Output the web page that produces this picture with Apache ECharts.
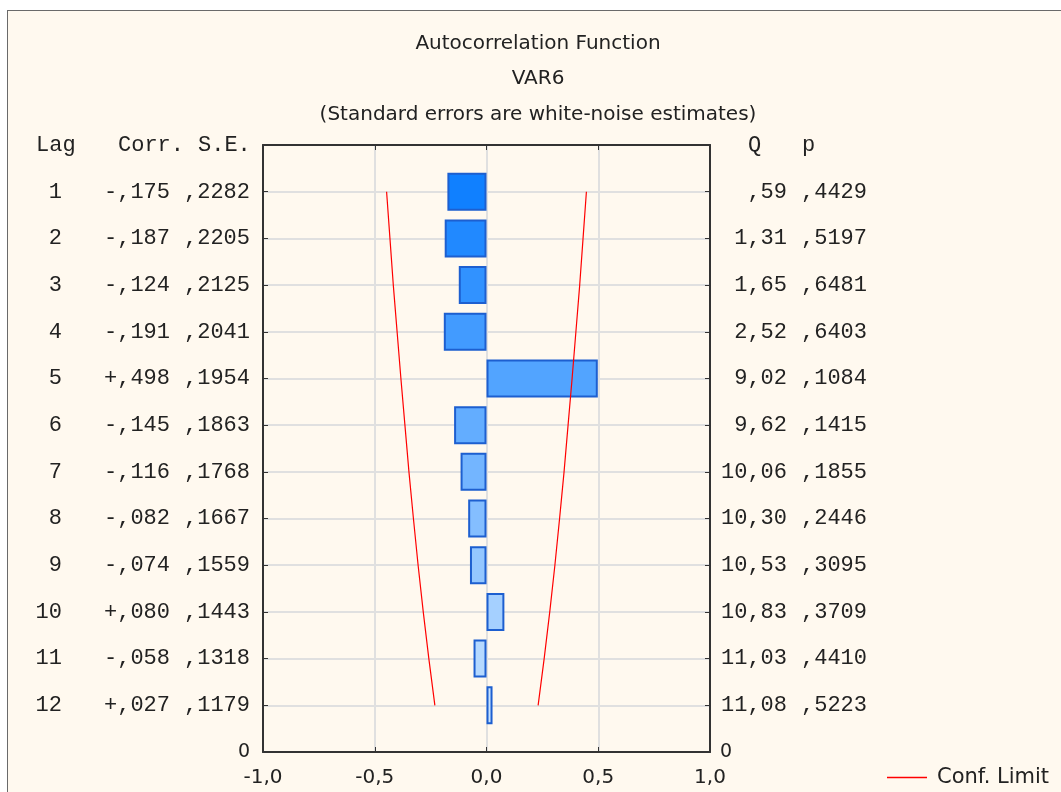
<!DOCTYPE html>
<html>
<head>
<meta charset="utf-8">
<script src="https://cdn.jsdelivr.net/npm/echarts@6/dist/echarts.min.js"></script>
<style>
html, body { margin: 0; padding: 0; background: #fff; }
#main {
  position: absolute; left: 7px; top: 10px;
  width: 1060px; height: 790px;
  border-left: 1px solid #6a6a6a; border-top: 1px solid #6a6a6a;
  background: #fff9ef;
}
</style>
</head>
<body>
<div id="main"></div>
<script>
var lags = [1, 2, 3, 4, 5, 6, 7, 8, 9, 10, 11, 12]
var corr = [-0.175, -0.187, -0.124, -0.191, 0.498, -0.145, -0.116, -0.082, -0.074, 0.080, -0.058, 0.027]
var stdErr = [0.2282, 0.2205, 0.2125, 0.2041, 0.1954, 0.1863, 0.1768, 0.1667, 0.1559, 0.1443, 0.1318, 0.1179]
var qStat = [0.59, 1.31, 1.65, 2.52, 9.02, 9.62, 10.06, 10.30, 10.53, 10.83, 11.03, 11.08]
var pValue = [0.4429, 0.5197, 0.6481, 0.6403, 0.1084, 0.1415, 0.1855, 0.2446, 0.3095, 0.3709, 0.4410, 0.5223]
var confLimit = [0.447, 0.432, 0.417, 0.400, 0.383, 0.365, 0.347, 0.327, 0.306, 0.283, 0.258, 0.231]
var xTicks = [-1, -0.5, 0, 0.5, 1]

var MONO = '"Liberation Mono", "DejaVu Sans Mono", monospace'
var SANS = '"DejaVu Sans", sans-serif'
var INK = '#222'
var MONO_SIZE = 22

// y categories: 0 at the bottom, lag 12 .. lag 1 upward, empty slot at the top
var yCats = ['0'].concat(lags.slice().reverse().map(String)).concat([''])

/** Statistica style number: ,2282  1,31  -,175 */
function fmtNum(v, d) {
  var s = Math.abs(v).toFixed(d)
  if (Math.abs(v) < 1) s = s.slice(1)
  return s.replace('.', ',')
}
function fmtCorr(v) {
  return (v < 0 ? '-' : '+') + fmtNum(v, 3)
}
function lagIndex(c) {
  return c === '' ? -1 : lags.indexOf(+c)
}
/** bar fill gets lighter with the lag */
function barColor(k) {
  var t = k / (lags.length - 1)
  var a = [16, 128, 255]
  var b = [198, 226, 255]
  var c = a.map(function(x, i) { return Math.round(x + (b[i] - x) * t) })
  return 'rgb(' + c.join(',') + ')'
}
function monoStyle(w) {
  return { width: w, align: 'right', fontFamily: MONO, fontSize: MONO_SIZE, color: INK }
}
function header(text, left) {
  return { type: 'text', left: left, top: 123, style: { text: text, font: MONO_SIZE + 'px ' + MONO, fill: INK } }
}

var chart = echarts.init(document.getElementById('main'))

var axisTick = { show: true, inside: true, length: 5, lineStyle: { color: '#333', width: 1 } }
var frame = { show: true, onZero: false, lineStyle: { color: '#333', width: 2 } }

var option = {
  animation: false,
  title: {
    text: 'Autocorrelation Function\nVAR6\n(Standard errors are white-noise estimates)',
    left: 'center',
    top: 15,
    padding: 0,
    textStyle: { fontFamily: SANS, fontSize: 20, fontWeight: 'normal', color: INK, lineHeight: 35.5 }
  },
  legend: {
    data: ['Conf. Limit'],
    left: 879,
    top: 756,
    padding: 0,
    icon: 'rect',
    itemWidth: 40,
    itemHeight: 1.5,
    textStyle: { fontFamily: SANS, fontSize: 21, color: INK, padding: [0, 0, 0, 5] }
  },
  graphic: [
    header('Lag', 28),
    header('Corr.', 110),
    header('S.E.', 190),
    header('Q', 740),
    header('p', 794)
  ],
  grid: { left: 255, top: 134, width: 447, height: 607, containLabel: false },
  xAxis: [
    {
      type: 'value',
      position: 'bottom',
      min: xTicks[0],
      max: xTicks[xTicks.length - 1],
      interval: 0.5,
      axisLine: frame,
      axisTick: axisTick,
      axisLabel: {
        margin: 16,
        fontFamily: SANS,
        fontSize: 20,
        color: INK,
        formatter: function(v) { return v.toFixed(1).replace('.', ',') }
      },
      splitLine: { show: true, lineStyle: { color: '#e0e0e0', width: 2 } }
    },
    {
      type: 'value',
      position: 'top',
      min: xTicks[0],
      max: xTicks[xTicks.length - 1],
      interval: 0.5,
      axisLine: frame,
      axisTick: axisTick,
      axisLabel: { show: false },
      splitLine: { show: false }
    }
  ],
  yAxis: [
    {
      type: 'category',
      data: yCats,
      boundaryGap: false,
      position: 'left',
      axisLine: frame,
      axisTick: Object.assign({ interval: 0 }, axisTick),
      splitLine: { show: true, interval: 0, lineStyle: { color: '#e0e0e0', width: 2 } },
      axisLabel: {
        interval: 0,
        margin: 13,
        color: INK,
        fontFamily: MONO,
        fontSize: MONO_SIZE,
        formatter: function(value) {
          if (value === '0') return '{z|0}'
          var k = lagIndex(value)
          if (k < 0) return ''
          return '{lag|' + value + '}{corr|' + fmtCorr(corr[k]) + '}{se|' + fmtNum(stdErr[k], 4) + '}'
        },
        rich: {
          z: { fontFamily: SANS, fontSize: 19, color: INK },
          lag: monoStyle(26),
          corr: monoStyle(108),
          se: monoStyle(80)
        }
      }
    },
    {
      type: 'category',
      data: yCats,
      boundaryGap: false,
      position: 'right',
      axisLine: frame,
      axisTick: Object.assign({ interval: 0 }, axisTick),
      splitLine: { show: false },
      axisLabel: {
        interval: 0,
        margin: 10,
        color: INK,
        fontFamily: MONO,
        fontSize: MONO_SIZE,
        formatter: function(value) {
          if (value === '0') return '{z|0}'
          var k = lagIndex(value)
          if (k < 0) return ''
          return '{q|' + fmtNum(qStat[k], 2) + '}{p|' + fmtNum(pValue[k], 4) + '}'
        },
        rich: {
          z: { fontFamily: SANS, fontSize: 19, color: INK },
          q: monoStyle(67),
          p: monoStyle(80)
        }
      }
    }
  ],
  series: [
    {
      name: 'Corr',
      type: 'bar',
      xAxisIndex: 0,
      yAxisIndex: 0,
      barWidth: 38,
      data: yCats.map(function(c) {
        var k = lagIndex(c)
        if (k < 0) return '-'
        return {
          value: corr[k],
          itemStyle: { color: barColor(k) }
        }
      }),
      itemStyle: { borderColor: '#1d5fd0', borderWidth: 2 }
    },
    {
      name: 'Conf. Limit',
      type: 'line',
      xAxisIndex: 0,
      yAxisIndex: 0,
      symbol: 'none',
      lineStyle: { color: '#ff0000', width: 1.2 },
      itemStyle: { color: '#ff0000' },
      data: lags.map(function(l, k) { return [confLimit[k], String(l)] })
    },
    {
      name: 'Conf. Limit',
      type: 'line',
      xAxisIndex: 0,
      yAxisIndex: 0,
      symbol: 'none',
      lineStyle: { color: '#ff0000', width: 1.2 },
      itemStyle: { color: '#ff0000' },
      data: lags.map(function(l, k) { return [-confLimit[k], String(l)] })
    }
  ]
}

chart.setOption(option)
</script>
</body>
</html>
